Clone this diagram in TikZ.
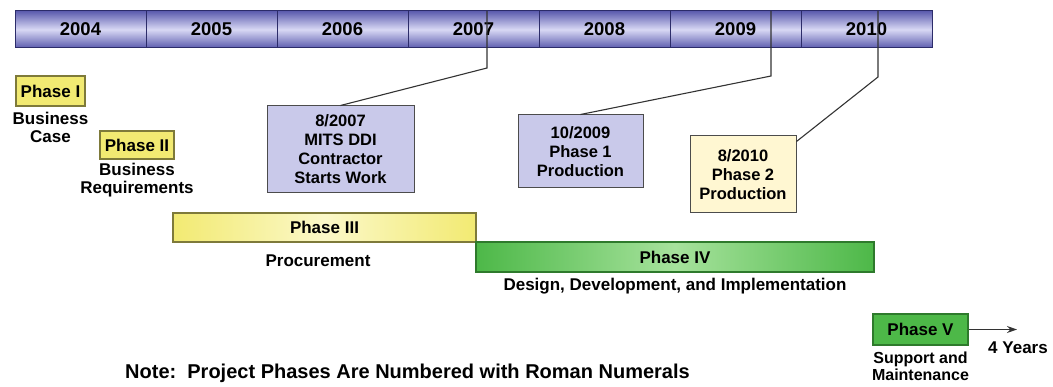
\documentclass[tikz,border=0pt]{standalone}
\usepackage{fontspec}
\setmainfont{Liberation Sans}
\usepackage{xcolor}
\usetikzlibrary{positioning,arrows,arrows.meta}

\definecolor{bardark}{HTML}{5C5CAE}
\definecolor{barlight}{HTML}{D8D8F4}
\definecolor{barline}{HTML}{2C2C6A}
\definecolor{lavbox}{HTML}{C9C9EA}
\definecolor{creambox}{HTML}{FFF7D2}
\definecolor{phyellow}{HTML}{F2EA72}
\definecolor{phyellowlt}{HTML}{FBF8C8}
\definecolor{phgreen}{HTML}{4DB848}
\definecolor{phgreenlt}{HTML}{A6E29C}
\definecolor{olive}{HTML}{7E7A3A}
\definecolor{dkgreen}{HTML}{2E7A2C}

\tikzset{
	yearcell/.style={draw=barline,line width=1pt,top color=bardark,bottom color=bardark,middle color=barlight,
		minimum width=131pt,minimum height=37pt,inner sep=0pt,font=\fontsize{18.5}{20}\selectfont\bfseries},
	datebox/.style={draw=black!70,line width=1pt,align=center,inner sep=0pt,
		font=\fontsize{16.5}{19}\selectfont\bfseries},
	phasebox/.style={draw=olive,line width=1.2pt,fill=phyellow,inner sep=0pt,
		font=\fontsize{17}{18}\selectfont\bfseries},
	lbl/.style={align=center,inner sep=0pt,font=\fontsize{17}{18.5}\selectfont\bfseries},
	marker/.style={draw=black!80,line width=1.1pt}
}

\begin{document}
\begin{tikzpicture}[x=1pt,y=-1pt]
	\useasboundingbox (0,0) rectangle (1053,387);

	% timeline
	\foreach \yr [evaluate=\yr as \xc using {80.5+131*(\yr-2004)}] in {2004,...,2010}
		\node[yearcell] (y\yr) at (\xc,29.5) {\yr};

	% milestone boxes
	\node[datebox,fill=lavbox,minimum width=147pt,minimum height=87pt] (m2007) at (340.5,149.5)
		{8/2007\\MITS DDI\\Contractor\\Starts Work};
	\node[datebox,fill=lavbox,minimum width=125pt,minimum height=73pt] (m2009) at (580.5,151.5)
		{10/2009\\Phase 1\\Production};
	\node[datebox,fill=creambox,minimum width=106pt,minimum height=77pt] (m2010) at (743,174.5)
		{8/2010\\Phase 2\\Production};

	\coordinate (t2007) at (487,11);  \coordinate (k2007) at (487,68);
	\coordinate (t2009) at (771,11);  \coordinate (k2009) at (771,76);
	\coordinate (t2010) at (878,11);  \coordinate (k2010) at (878,77);
	\draw[marker] (t2007) -- (k2007) -- (m2007.north);
	\draw[marker] (t2009) -- (k2009) -- (m2009.north);
	\draw[marker] (t2010) -- (k2010) -- ([yshift=-6pt]m2010.north east);

	% phases
	\node[phasebox,minimum width=69pt,minimum height=30pt] (ph1) at (50.5,91) {Phase I};
	\node[lbl] (ph1l) [below=5pt of ph1] {Business\\Case};
	\node[phasebox,minimum width=74pt,minimum height=28pt] (ph2) at (137,145) {Phase II};
	\node[lbl] (ph2l) [below=3pt of ph2] {Business\\Requirements};
	\node[phasebox,left color=phyellow,right color=phyellow,middle color=phyellowlt,
		minimum width=303pt,minimum height=29pt] (ph3) at (324.5,227.5) {Phase III};
	\node[lbl] (ph3l) at (318,261) {Procurement};
	\node[phasebox,draw=dkgreen,left color=phgreen,right color=phgreen,middle color=phgreenlt,
		minimum width=398pt,minimum height=30pt] (ph4) at (675,257) {Phase IV};
	\node[lbl] (ph4l) [below=5pt of ph4] {Design, Development, and Implementation};
	\node[phasebox,draw=dkgreen,fill=phgreen,minimum width=95pt,minimum height=31pt] (ph5) at (920.5,329.5) {Phase V};
	\node[lbl,font=\fontsize{16}{17.5}\selectfont\bfseries] (ph5l) [below=6pt of ph5] {Support and\\Maintenance};
	\coordinate (end5) at (1017,329.5);
	\draw[marker,-{Stealth[length=10pt,width=7pt]}] (ph5) -- (end5);
	\node[lbl] (yrs) at (1018,348) {4 Years};

	\node[lbl,anchor=west,font=\fontsize{20}{22}\selectfont\bfseries] (note) at (125,373)
		{Note:\ \ Project Phases Are Numbered with Roman Numerals};
\end{tikzpicture}
\end{document}
